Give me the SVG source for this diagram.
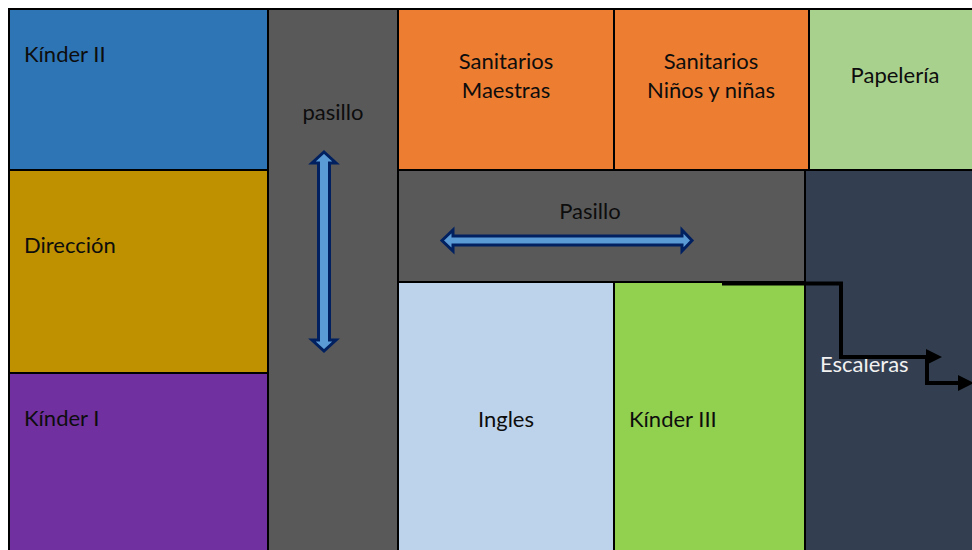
<svg xmlns="http://www.w3.org/2000/svg" width="972" height="550" viewBox="0 0 972 550">
<style>
.r{stroke:#000;stroke-width:2}
text{font-family:"Lato","Carlito","Liberation Sans",sans-serif;font-size:22px;fill:#0d0d0d}
.c{text-anchor:middle}
.blue{fill:#5b9bd5;stroke:#002060;stroke-width:3;stroke-linejoin:miter}
.elbow{fill:none;stroke:#000;stroke-width:4}
.head{fill:#000}
</style>
<rect width="972" height="550" fill="#fff"/>
<g id="kinder2"><rect class="r" x="9" y="9" width="259" height="161" fill="#2e75b6"/><text x="24" y="62">Kínder II</text></g>
<g id="direccion"><rect class="r" x="9" y="170" width="259" height="203" fill="#bf9000"/><text x="24" y="253">Dirección</text></g>
<g id="kinder1"><rect class="r" x="9" y="373" width="259" height="178" fill="#7030a0"/><text x="24" y="426">Kínder I</text></g>
<g id="pasillo-v"><rect class="r" x="268" y="9" width="130" height="542" fill="#595959"/><text class="c" x="333" y="120">pasillo</text></g>
<g id="san-maestras"><rect class="r" x="398" y="9" width="216" height="161" fill="#ed7d31"/><text class="c" x="506" y="69">Sanitarios</text><text class="c" x="506" y="98">Maestras</text></g>
<g id="san-ninos"><rect class="r" x="614" y="9" width="195" height="161" fill="#ed7d31"/><text class="c" x="711" y="69">Sanitarios</text><text class="c" x="711" y="98">Niños y niñas</text></g>
<g id="papeleria"><rect class="r" x="809" y="9" width="165" height="161" fill="#a9d18e"/><text class="c" x="895" y="83">Papelería</text></g>
<g id="pasillo-h"><rect class="r" x="398" y="170" width="407" height="112" fill="#595959"/><text class="c" x="590" y="219">Pasillo</text></g>
<g id="ingles"><rect class="r" x="398" y="282" width="216" height="269" fill="#bdd3eb"/><text class="c" x="506" y="427">Ingles</text></g>
<g id="kinder3"><rect class="r" x="614" y="282" width="191" height="269" fill="#92d050"/><text x="629" y="427">Kínder III</text></g>
<g id="escaleras"><rect class="r" x="805" y="170" width="169" height="381" fill="#333f50"/><text x="820" y="372" style="fill:#f2f2f2">Escaleras</text></g>
<g id="connectors">
<polygon class="blue" points="324,152 336,163 329.500,163 329.500,340 336,340 324,351 312,340 318.500,340 318.500,163 312,163"/>
<polygon class="blue" points="442,240.500 453,230 453,236 682,236 682,230 692,240.500 682,251 682,245 453,245 453,251"/>
<path class="elbow" d="M722 283.500H841V357H930"/>
<polygon class="head" points="926,349 942,357 926,365"/>
<path class="elbow" d="M927 357V383H962"/>
<polygon class="head" points="958,375 974,383 958,391"/>
</g>
</svg>
